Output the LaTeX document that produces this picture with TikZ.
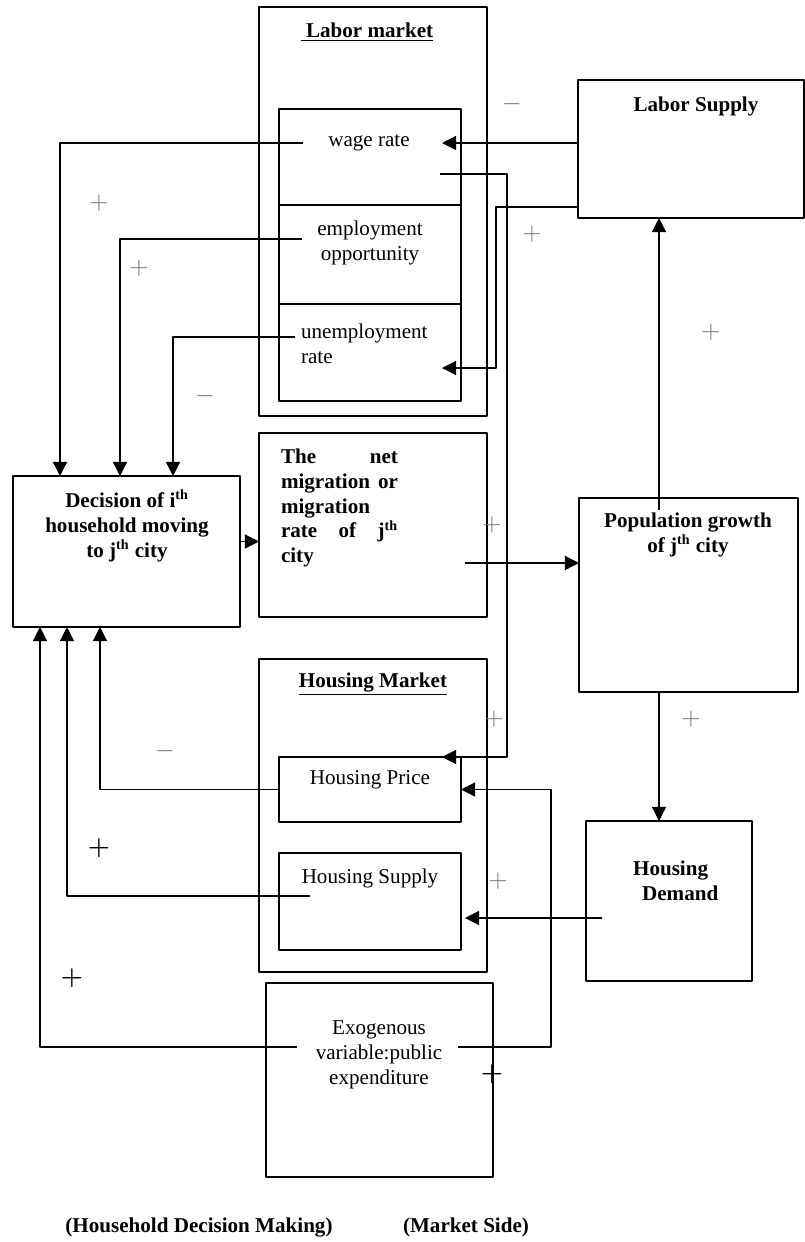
\documentclass[tikz,border=0pt]{standalone}
\usepackage[no-math]{fontspec}
\setmainfont{Liberation Serif}
\usetikzlibrary{arrows.meta,calc}

\tikzset{
  box/.style 2 args={draw, line width=0.7pt, minimum width=#1*0.02cm, minimum height=#2*0.02cm, inner sep=0pt, outer sep=0pt},
  tbox/.style 2 args={box={#1}{#2}, line width=1.3pt},
  lbl/.style={inner sep=1pt, align=center, font=\fontsize{12}{14.2}\selectfont},
  blbl/.style={lbl, font=\fontsize{12}{14.2}\selectfont\bfseries},
  conn/.style={line width=0.7pt, -{Triangle[length=8pt,width=8pt]}},
  pl/.style={inner sep=0pt, text=black!55, font=\fontsize{15}{15}\selectfont},
  pb/.style={pl, text=black, font=\fontsize{15}{15}\selectfont\boldmath},
}

\begin{document}
\begin{tikzpicture}[x=0.02cm, y=-0.02cm, line join=round]
\useasboundingbox (0,0) rectangle (805,1242);

% boxes
\node[tbox={228}{409}] (lm) at (373,211.5) {};
\node[box={182}{96}] (wagebox) at (370,157) {};
\node[box={182}{99}] (emplbox) at (370,254.5) {};
\node[box={182}{97}] (unembox) at (370,352.5) {};
\draw[line width=1.3pt] (wagebox.south west) -- (wagebox.south east);
\node[box={226}{138}] (lsup) at (691,149) {};
\node[box={227}{151}] (dec) at (126.5,551.5) {};
\node[tbox={228}{184}] (mig) at (373,525) {};
\node[box={219}{194}] (pop) at (688.5,595) {};
\node[tbox={228}{313}] (hm) at (373,815.5) {};
\node[box={182}{65}] (hp) at (370,789.5) {};
\node[box={182}{97}] (hs) at (370,901.5) {};
\node[box={166}{160}] (hd) at (669,901) {};
\node[box={227}{194}] (exo) at (379.5,1080) {};

% texts
\node[blbl] (lmt) at (367,32) {\underline{\ Labor market}};
\node[lbl] (wage) at (369,143) {wage rate};
\node[lbl] (empl) at (370,243) {employment\\opportunity};
\node[lbl, anchor=west, align=left] (unem) at (299,344) {unemployment\\rate};
\node[blbl] (lsupt) at (696,106) {Labor Supply};
\node[blbl] (dect) at (127,526) {Decision of i\textsuperscript{th}\\household moving\\to j\textsuperscript{th} city};
\node[blbl, align=left, text width=2.34cm] (migt) at (339.5,508) {The\hfill net\\migration\hfill or\\migration\\rate\hfill of\hfill j\textsuperscript{th}\\city};
\node[blbl] (popt) at (688,535) {Population growth\\of j\textsuperscript{th} city};
\node[blbl] (hmt) at (373,684) {\underline{Housing Market}};
\node[lbl] (hpt) at (370,780) {Housing Price};
\node[lbl] (hst) at (370,878) {Housing Supply};
\node[blbl, anchor=west, align=left] (hdt) at (631,881) {Housing\\\hspace*{0.18cm}Demand};
\node[lbl] (exot) at (379,1055) {Exogenous\\variable:public\\expenditure};
\node[blbl] (hhs) at (199,1227) {(Household Decision Making)};
\node[blbl] (mks) at (466,1227) {(Market Side)};

% free ends
\coordinate (wageL) at (303,143);
\coordinate (wageR) at (442,143);
\coordinate (wageO) at (440,174);
\coordinate (emplL) at (302,239);
\coordinate (unemL) at (295,337);
\coordinate (unemR) at (442,368);
\coordinate (migR) at (465,563);
\coordinate (popT) at (659,510);
\coordinate (hpT) at (442,757);
\coordinate (hsL) at (310,896);
\coordinate (hsR) at (465,918);
\coordinate (hdL) at (602,918);
\coordinate (exoL) at (297,1047);
\coordinate (exoR) at (458,1047);

% connectors
\draw[conn] (wageL) -| ($(dec.north west)+(47,0)$);
\draw[conn] (emplL) -| ($(dec.north west)+(107,0)$);
\draw[conn] (unemL) -| ($(dec.north west)+(160,0)$);
\draw[conn] (lsup.west |- wageR) -- (wageR);
\draw[conn] (wageO) -- ++(67,0) |- (hpT);
\draw[conn] ($(lsup.south west)+(0,-11)$) -- ++(-82,0) |- (unemR);
\draw[conn] ($(dec.east)+(0,-10)$) coordinate (decR) -- (decR -| mig.west);
\draw[conn] (migR) -- (migR -| pop.west);
\draw[conn] (popT) -- (popT |- lsup.south);
\draw[conn] (popT |- pop.south) -- (popT |- hd.north);
\draw[conn] (hdL) -- (hsR);
\draw[conn] (exoR) -- ++(93,0) |- (hp.east);
\draw[conn] (exoL) -| ($(dec.south west)+(27,0)$);
\draw[conn] (hp.west) -| ($(dec.south west)+(87,0)$);
\draw[conn] (hsL) -| ($(dec.south west)+(54,0)$);

% signs
\node[pl] (s1) at (512,104) {$-$};
\node[pl] (s2) at (532,234) {$+$};
\node[pl] (s3) at (711,332) {$+$};
\node[pl] (s4) at (99,203) {$+$};
\node[pl] (s5) at (139,268) {$+$};
\node[pl] (s6) at (205,396) {$-$};
\node[pl] (s7) at (492,525) {$+$};
\node[pl] (s8) at (494,719) {$+$};
\node[pl] (s9) at (498,881) {$+$};
\node[pl] (s10) at (691,719) {$+$};
\node[pl] (s11) at (165,751) {$-$};
\node[pb] (s12) at (99,848) {$+$};
\node[pb] (s13) at (72,978) {$+$};
\node[pb] (s14) at (492,1074) {$+$};
\end{tikzpicture}
\end{document}
